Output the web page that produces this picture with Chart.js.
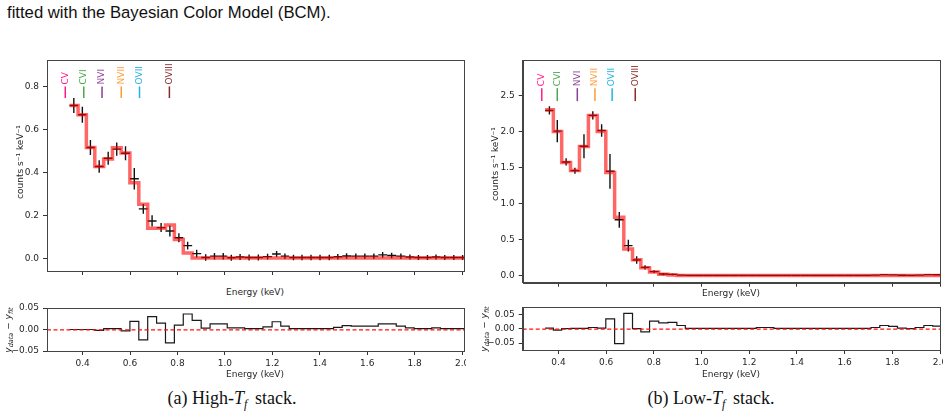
<!DOCTYPE html>
<html>
<head>
<meta charset="utf-8">
<script src="https://cdn.jsdelivr.net/npm/chart.js@4"></script>
<style>
body{margin:0;width:947px;height:420px;background:#fff;position:relative;overflow:hidden;font-family:'DejaVu Sans',sans-serif;}
canvas{position:absolute;}
.t{position:absolute;white-space:nowrap;color:#262626;}
.cap{font-family:'Liberation Sans',Arial,sans-serif;font-size:16.7px;left:7px;top:3px;color:#111;}
.sub{font-family:'Liberation Serif','Times New Roman',serif;font-size:18px;color:#111;transform:translate(-50%,-50%);}
.sub sub{font-size:12px;vertical-align:-4px;margin-right:3px;}
.xl{font-size:9px;transform:translate(-50%,-50%);}
.yl{font-size:9px;transform:translate(-50%,-50%) rotate(-90deg);}
.yl sub{font-size:6.5px;font-style:italic;vertical-align:-2px;}
</style>
</head>
<body>
<div class="t cap">fitted with the Bayesian Color Model (BCM).</div>

<canvas id="mainA" width="470" height="228" style="left:0;top:52px"></canvas>
<canvas id="resA" width="466" height="71" style="left:0;top:300px"></canvas>
<canvas id="mainB" width="469" height="240" style="left:478px;top:52px"></canvas>
<canvas id="resB" width="465" height="70" style="left:478px;top:299px"></canvas>

<div class="t yl" style="left:20px;top:162px">counts s⁻¹ keV⁻¹</div>
<div class="t yl" style="left:495px;top:164px">counts s⁻¹ keV⁻¹</div>
<div class="t yl" style="left:9px;top:330px"><i>y</i><sub>data</sub> − <i>y</i><sub>fit</sub></div>
<div class="t yl" style="left:485px;top:329px"><i>y</i><sub>data</sub> − <i>y</i><sub>fit</sub></div>
<div class="t xl" style="left:255px;top:292px">Energy (keV)</div>
<div class="t xl" style="left:731px;top:293px">Energy (keV)</div>
<div class="t xl" style="left:255px;top:374px">Energy (keV)</div>
<div class="t xl" style="left:731px;top:374px">Energy (keV)</div>
<div class="t sub" style="left:232px;top:400px">(a) High-<i>T</i><sub><i>f</i></sub> stack.</div>
<div class="t sub" style="left:711px;top:400px">(b) Low-<i>T</i><sub><i>f</i></sub> stack.</div>

<script>
// ---- data ----
const halfBin = 0.018;

// (a) High-Tf stack
const energyA = [0.363,0.399,0.433,0.470,0.508,0.544,0.581,0.618,0.656,0.693,0.731,0.768,0.806,0.843,0.881,0.919,0.956,0.993,1.027,1.064,1.102,1.141,1.180,1.218,1.253,1.289,1.325,1.363,1.401,1.440,1.476,1.513,1.552,1.590,1.628,1.665,1.703,1.742,1.780,1.816,1.854,1.890,1.927,1.965,2.002];
const countsA = [0.711,0.668,0.516,0.427,0.466,0.508,0.489,0.370,0.230,0.174,0.143,0.127,0.096,0.059,0.022,0.004,0.010,0.010,0.003,0.006,0.004,0.004,0.008,0.020,0.010,0.004,0.004,0.004,0.004,0.004,0.007,0.011,0.010,0.010,0.010,0.016,0.013,0.010,0.006,0.004,0.004,0.006,0.004,0.004,0.004];
const errA = [0.035,0.037,0.035,0.029,0.030,0.031,0.033,0.050,0.023,0.026,0.021,0.026,0.021,0.018,0.018,0.015,0.015,0.015,0.014,0.014,0.014,0.014,0.013,0.014,0.013,0.013,0.013,0.013,0.013,0.013,0.013,0.013,0.013,0.013,0.013,0.013,0.013,0.013,0.012,0.012,0.012,0.012,0.012,0.012,0.012];
const modelA = [0.711,0.668,0.516,0.427,0.462,0.515,0.490,0.352,0.252,0.140,0.140,0.155,0.088,0.025,0.002,0.002,0.002,0.002,0.002,0.002,0.002,0.002,0.002,0.002,0.002,0.002,0.002,0.002,0.002,0.002,0.002,0.002,0.002,0.002,0.002,0.002,0.002,0.002,0.002,0.002,0.002,0.002,0.002,0.002,0.002];
const residA = [0.000,0.000,0.000,-0.002,0.002,0.002,-0.003,0.019,-0.024,0.030,0.015,-0.031,0.010,0.036,0.021,0.003,0.013,0.013,0.004,0.004,0.002,0.002,0.006,0.018,0.008,0.002,0.002,0.002,0.002,0.002,0.005,0.009,0.008,0.008,0.008,0.013,0.013,0.008,0.004,0.002,0.002,0.004,0.002,0.002,0.002];

// (b) Low-Tf stack
const energyB = [0.362,0.395,0.432,0.469,0.507,0.544,0.581,0.616,0.655,0.693,0.728,0.763,0.801,0.840,0.879,0.914,0.950,0.988,1.026,1.063,1.100,1.137,1.174,1.211,1.248,1.285,1.322,1.359,1.396,1.433,1.470,1.507,1.544,1.581,1.618,1.655,1.692,1.729,1.766,1.803,1.840,1.877,1.914,1.951,1.988];
const countsB = [2.291,2.004,1.577,1.456,1.795,2.222,2.013,1.447,0.775,0.417,0.218,0.116,0.056,0.023,0.019,0.008,0.004,0.004,0.004,0.004,0.004,0.004,0.004,0.004,0.004,0.004,0.004,0.004,0.004,0.004,0.004,0.004,0.004,0.004,0.004,0.004,0.004,0.008,0.015,0.012,0.006,0.004,0.008,0.015,0.013];
const errB = [0.058,0.155,0.050,0.042,0.167,0.056,0.088,0.241,0.109,0.081,0.053,0.030,0.020,0.015,0.012,0.010,0.008,0.008,0.008,0.008,0.008,0.008,0.008,0.008,0.008,0.008,0.008,0.008,0.008,0.008,0.008,0.008,0.008,0.008,0.008,0.008,0.008,0.008,0.008,0.008,0.008,0.008,0.008,0.008,0.008];
const modelB = [2.300,2.000,1.570,1.460,1.790,2.220,2.000,1.430,0.810,0.370,0.220,0.110,0.050,0.020,0.010,0.004,0.004,0.004,0.004,0.004,0.004,0.004,0.004,0.004,0.004,0.004,0.004,0.004,0.004,0.004,0.004,0.004,0.004,0.004,0.004,0.004,0.004,0.004,0.004,0.004,0.004,0.004,0.004,0.004,0.004];
const residB = [0.002,-0.005,0.000,0.001,0.001,0.004,0.002,0.034,-0.052,0.053,0.000,-0.011,0.026,0.020,0.022,0.011,0.001,0.001,0.001,0.001,0.001,0.001,0.001,0.001,0.004,0.004,0.001,0.001,0.001,0.001,0.001,0.001,0.001,0.001,0.001,0.001,0.001,0.004,0.011,0.008,0.002,0.000,0.004,0.011,0.009];

// emission lines marked at the top
const ionNames = ['CV','CVI','NVI','NVII','OVII','OVIII'];
const ionColors = ['#ff1a8c','#4aa84a','#8a3f96','#ff9a33','#22b4e0','#8b2a2a'];
const ionEnergyA = [0.327,0.405,0.482,0.563,0.640,0.766];
const ionEnergyB = [0.330,0.395,0.479,0.553,0.625,0.722];

// ---- helpers ----
Chart.defaults.font.family = "'DejaVu Sans', sans-serif";
Chart.defaults.font.size = 9;
Chart.defaults.color = '#262626';

function edgesOf(c) {
  const e = [c[0] - halfBin];
  for (let i = 1; i < c.length; i++) e.push((c[i-1] + c[i]) / 2);
  e.push(c[c.length-1] + halfBin);
  return e;
}
function stepPts(c, v) {
  const e = edgesOf(c), pts = [];
  v.forEach((y, i) => { pts.push({x: e[i], y}); pts.push({x: e[i+1], y}); });
  return pts;
}
const fmt = (v, d) => v.toFixed(d).replace('-', '\u2212');

function xAxis(min, max, labels, h) {
  return {
    type: 'linear', min, max,
    ticks: {stepSize: 0.2, includeBounds: false, display: labels, padding: 3, maxRotation: 0, autoSkip: false, callback: v => fmt(v, 1)},
    grid: {drawOnChartArea: false, drawTicks: true, tickLength: 4, tickColor: '#333'},
    border: {display: true, color: '#444'},
    afterFit(s) { s.height = h; s.paddingLeft = 0; s.paddingRight = 0; }
  };
}
function yAxis(min, max, step, w, d) {
  return {
    type: 'linear', min, max,
    ticks: {stepSize: step, includeBounds: false, padding: 4, autoSkip: false, callback: v => fmt(v, d)},
    grid: {drawOnChartArea: false, drawTicks: true, tickLength: 4, tickColor: '#333'},
    border: {display: true, color: '#444'},
    afterFit(s) { s.width = w; s.paddingTop = 0; s.paddingBottom = 0; }
  };
}

// frame, error bars, zero line and line labels
function panel(cfg) {
  return {
    id: 'panel',
    beforeDatasetsDraw(chart) {
      if (!cfg.counts) return;
      const {ctx, chartArea: a, scales: {x, y}} = chart;
      ctx.save();
      ctx.beginPath(); ctx.rect(a.left, a.top, a.right - a.left, a.bottom - a.top); ctx.clip();
      const e = edgesOf(cfg.energy);
      ctx.strokeStyle = '#111'; ctx.lineWidth = 1.4;
      cfg.counts.forEach((v, i) => {
        const px = x.getPixelForValue(cfg.energy[i]), py = y.getPixelForValue(v);
        ctx.beginPath();
        ctx.moveTo(x.getPixelForValue(e[i]), py); ctx.lineTo(x.getPixelForValue(e[i+1]), py);
        ctx.moveTo(px, y.getPixelForValue(v - cfg.err[i])); ctx.lineTo(px, y.getPixelForValue(v + cfg.err[i]));
        ctx.stroke();
      });
      ctx.restore();
    },
    afterDatasetsDraw(chart) {
      const {ctx, chartArea: a, scales: {x, y}} = chart;
      if (cfg.zero) {
        ctx.save();
        ctx.strokeStyle = '#ff1010'; ctx.lineWidth = 1.3; ctx.setLineDash([4, 2.5]);
        const py = y.getPixelForValue(0) + 0.4;
        ctx.beginPath(); ctx.moveTo(a.left, py); ctx.lineTo(a.right, py); ctx.stroke();
        ctx.restore();
      }
      if (!cfg.ions) return;
      ctx.save();
      ctx.font = '9px "DejaVu Sans"';
      ctx.textBaseline = 'middle'; ctx.textAlign = 'left';
      ionNames.forEach((n, i) => {
        const px = x.getPixelForValue(cfg.ions[i]);
        const y0 = y.getPixelForValue(cfg.tick[0]), y1 = y.getPixelForValue(cfg.tick[1]);
        ctx.strokeStyle = ionColors[i]; ctx.lineWidth = 1.5;
        ctx.beginPath(); ctx.moveTo(px, y0); ctx.lineTo(px, y1); ctx.stroke();
        ctx.save();
        ctx.translate(px, y1 - 2); ctx.rotate(-Math.PI / 2);
        ctx.fillStyle = ionColors[i];
        ctx.fillText(n, 0, 0);
        ctx.restore();
      });
      ctx.restore();
    },
    afterDraw(chart) {
      const {ctx, chartArea: a} = chart;
      ctx.save();
      ctx.strokeStyle = '#444'; ctx.lineWidth = 1;
      ctx.strokeRect(Math.round(a.left) + 0.5, Math.round(a.top) + 0.5, Math.round(a.right - a.left), Math.round(a.bottom - a.top));
      ctx.restore();
    }
  };
}

function makeChart(id, datasets, pad, x, y, plug) {
  return new Chart(document.getElementById(id), {
    type: 'line',
    data: {datasets},
    options: {
      responsive: false, animation: false, events: [],
      layout: {padding: pad},
      plugins: {legend: {display: false}, tooltip: {enabled: false}},
      scales: {x, y}
    },
    plugins: [plug]
  });
}

const modelStyle = {borderColor: 'rgba(255,0,0,0.6)', borderWidth: 3.5, pointRadius: 0, tension: 0, borderJoinStyle: 'miter'};
const residStyle = {borderColor: '#1a1a1a', borderWidth: 1.2, pointRadius: 0, tension: 0, borderJoinStyle: 'miter'};

// (a)
makeChart('mainA', [Object.assign({data: stepPts(energyA, modelA)}, modelStyle)],
  {top: 8, right: 6, left: 0, bottom: 0},
  xAxis(0.25, 2.008, false, 9), yAxis(-0.059, 0.923, 0.2, 47, 1),
  panel({energy: energyA, counts: countsA, err: errA, ions: ionEnergyA, tick: [0.746, 0.800]}));
makeChart('resA', [Object.assign({data: stepPts(energyA, residA)}, residStyle)],
  {top: 8, right: 2, left: 0, bottom: 0},
  xAxis(0.25, 2.008, true, 20), yAxis(-0.05, 0.05, 0.05, 47, 2),
  panel({zero: true}));

// (b)
makeChart('mainB', [Object.assign({data: stepPts(energyB, modelB)}, modelStyle)],
  {top: 8, right: 7, left: 0, bottom: 0},
  xAxis(0.25, 2.0, false, 9.3), yAxis(-0.097, 2.99, 0.5, 44.7, 1),
  panel({energy: energyB, counts: countsB, err: errB, ions: ionEnergyB, tick: [2.42, 2.60]}));
makeChart('resB', [Object.assign({data: stepPts(energyB, residB)}, residStyle)],
  {top: 8.3, right: 3, left: 0, bottom: 0},
  xAxis(0.25, 2.0, true, 19), yAxis(-0.074, 0.074, 0.05, 44.7, 2),
  panel({zero: true}));
</script>
</body>
</html>
